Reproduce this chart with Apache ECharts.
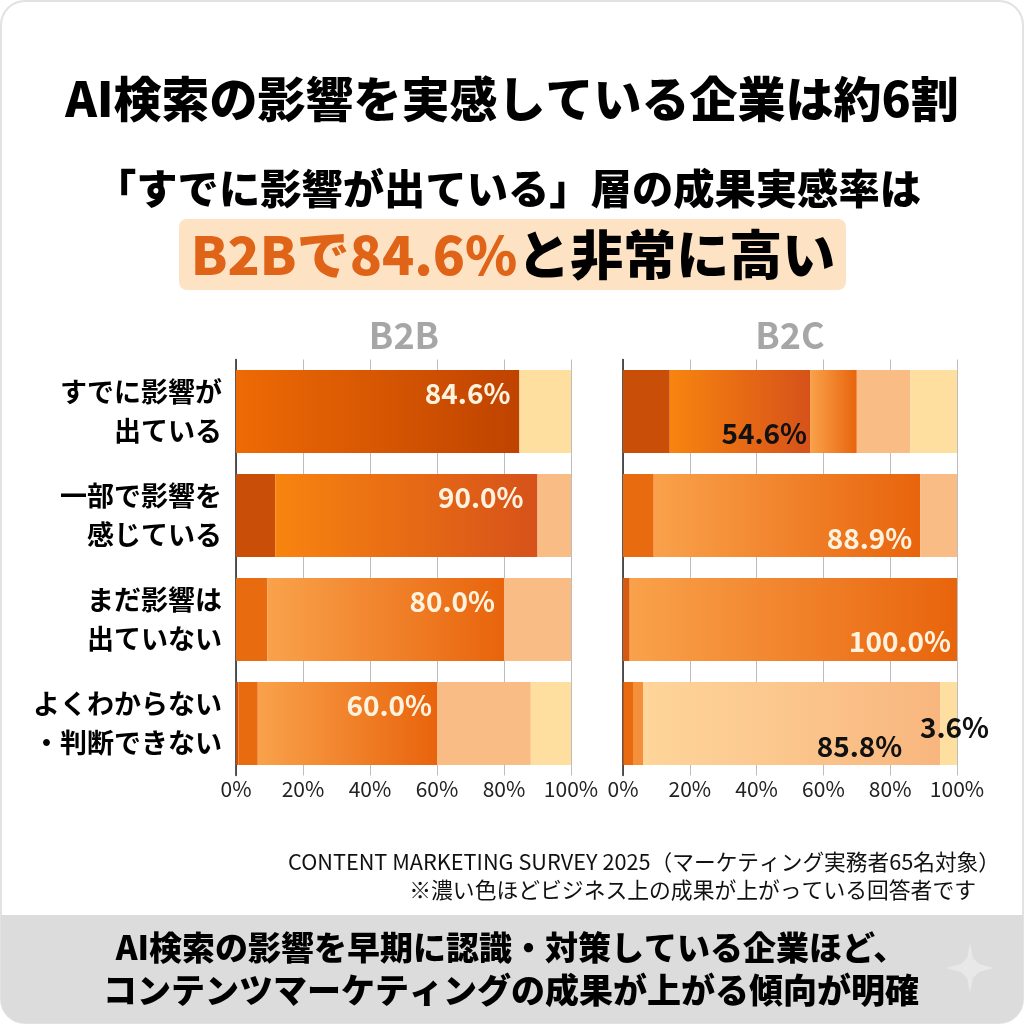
<!DOCTYPE html>
<html>
<head>
<meta charset="utf-8">
<style>html,body{margin:0;padding:0;background:#fff}#main{width:1024px;height:1024px}</style>
<script src="https://cdn.jsdelivr.net/npm/echarts@6/dist/echarts.min.js"></script>
</head>
<body>
<div id="main"></div>
<script>
const categories = ['すでに影響が\n出ている', '一部で影響を\n感じている', 'まだ影響は\n出ていない', 'よくわからない\n・判断できない'];
const ticks = [0, 20, 40, 60, 80, 100];

// share of respondents per result level, darkest first
const b2bTier1 = [84.6, 11.7, 0, 0.7];
const b2bTier2 = [0, 78.3, 9.4, 5.8];
const b2bTier3 = [0, 0, 70.6, 53.5];
const b2bTier4 = [0, 10, 20, 28];
const b2bTier5 = [15.4, 0, 0, 12];

const b2cTier1 = [14, 0, 0, 0.3];
const b2cTier2 = [42, 9.2, 2, 2.7];
const b2cTier3 = [14, 79.8, 98, 3];
const b2cTier4 = [16, 11, 0, 89];
const b2cTier5 = [14, 0, 0, 5];

const b2bLabels = ['84.6%', '90.0%', '80.0%', '60.0%'];
const b2cLabels = ['54.6%', '88.9%', '100.0%', '85.8%'];
const b2cExtraLabel = '3.6%';

const font = '"Noto Sans CJK JP", "Noto Sans", sans-serif';
const chart = echarts.init(document.getElementById('main'));

function grad(from, to) {
  return new echarts.graphic.LinearGradient(0, 0, 1, 0, [
    { offset: 0, color: from },
    { offset: 1, color: to }
  ]);
}

// short segments are flat in the picture, long ones fade
function tierColor(tier, v) {
  if (tier === 0) return v > 50 ? grad('#ee6a05', '#bf4300') : '#c94f08';
  if (tier === 1) {
    if (v > 20) return grad('#f8840f', '#d6521a');
    return v > 2 ? '#e86b10' : '#d65a10';
  }
  if (tier === 2) return v > 8 ? grad('#f9a24b', '#e8640c') : '#f5903a';
  if (tier === 3) return v > 50 ? grad('#fed59a', '#f8b67e') : '#f8bc84';
  return '#fedf9f';
}

// which tier carries the printed label in each row, and where it sits
const b2bLabelPlace = [
  { tier: 0, offset: [-9, -18], color: '#fff3e0' },
  { tier: 1, offset: [-14, -18], color: '#fff3e0' },
  { tier: 2, offset: [-9, -18], color: '#fff3e0' },
  { tier: 2, offset: [-5, -18], color: '#fff3e0' }
];
const b2cLabelPlace = [
  { tier: 1, offset: [-3, 22], color: '#111' },
  { tier: 2, offset: [-8, 23], color: '#fff3e0' },
  { tier: 2, offset: [-6, 22], color: '#fff3e0' },
  { tier: 3, offset: [-38, 23], color: '#111' }
];

function makeSeries(tiers, labels, place, axisIndex) {
  return tiers.map((values, tier) => ({
    name: 'tier' + (tier + 1),
    type: 'bar',
    stack: 'c' + axisIndex,
    xAxisIndex: axisIndex,
    yAxisIndex: axisIndex,
    barWidth: 83,
    data: values.map((v, row) => {
      const item = { value: v, itemStyle: { color: tierColor(tier, v) } };
      let text = null, p = null;
      if (place[row].tier === tier) { text = labels[row]; p = place[row]; }
      if (axisIndex === 1 && row === 3 && tier === 4) {
        text = b2cExtraLabel;
        p = { offset: [32, 4], color: '#111' };
      }
      if (text) {
        item.label = {
          show: true,
          formatter: text,
          position: 'insideRight',
          distance: 0,
          offset: p.offset,
          color: p.color,
          fontFamily: font,
          fontSize: 28,
          fontWeight: 'bold'
        };
      }
      return item;
    })
  }));
}

function xAxis(gridIndex) {
  return {
    type: 'value',
    gridIndex,
    min: ticks[0],
    max: ticks[ticks.length - 1],
    interval: ticks[1] - ticks[0],
    axisLine: { show: false },
    axisTick: { show: false },
    axisLabel: { formatter: '{value}%', color: '#222', fontFamily: font, fontSize: 21, margin: 3 },
    splitLine: { show: true, lineStyle: { color: '#bdbdbd', width: 1 } }
  };
}

function yAxis(gridIndex, showLabels) {
  return {
    type: 'category',
    gridIndex,
    inverse: true,
    data: categories,
    axisLine: { show: true, onZero: false, lineStyle: { color: '#222', width: 1.5 } },
    axisTick: { show: false },
    axisLabel: {
      show: showLabels,
      color: '#000',
      fontFamily: font,
      fontSize: 27,
      fontWeight: 'bold',
      lineHeight: 39,
      align: 'right',
      margin: 14
    }
  };
}

function text(str, x, y, size, color, weight, align) {
  return {
    type: 'text',
    x,
    y,
    style: {
      text: str,
      fontFamily: font,
      fontSize: size,
      fontWeight: weight || 'bold',
      fill: color || '#000',
      align: align || 'center',
      verticalAlign: 'middle'
    }
  };
}

const option = {
  backgroundColor: '#fff',
  animation: false,
  grid: [
    { left: 236, right: 1024 - 571, top: 359.5, height: 416 },
    { left: 623, right: 1024 - 957, top: 359.5, height: 416 }
  ],
  xAxis: [xAxis(0), xAxis(1)],
  yAxis: [yAxis(0, true), yAxis(1, false)],
  series: [
    ...makeSeries([b2bTier1, b2bTier2, b2bTier3, b2bTier4, b2bTier5], b2bLabels, b2bLabelPlace, 0),
    ...makeSeries([b2cTier1, b2cTier2, b2cTier3, b2cTier4, b2cTier5], b2cLabels, b2cLabelPlace, 1)
  ],
  graphic: [
    { type: 'rect', z: -10, shape: { x: 1, y: 1, width: 1022, height: 1022, r: 24 }, style: { fill: '#fff', stroke: '#e2e2e2', lineWidth: 2 } },
    { type: 'rect', z: -9, shape: { x: 1, y: 915, width: 1022, height: 108, r: [0, 0, 24, 24] }, style: { fill: '#dcdcdc' } },
    { type: 'rect', z: -9, shape: { x: 179, y: 219, width: 667, height: 71, r: 8 }, style: { fill: '#fde3c4' } },
    // corner sparkle on the footer band
    { type: 'polygon', z: -8, shape: { points: [[970, 943], [973, 958], [979, 964], [994, 968], [979, 972], [973, 978], [970, 993], [967, 978], [961, 972], [946, 968], [961, 964], [967, 958]] }, style: { fill: '#e8e8e8' } },
    text('AI検索の影響を実感している企業は約6割', 512, 99, 48, '#000', 900),
    text('「すでに影響が出ている」層の成果実感率は', 508, 188, 41.3, '#000', 900),
    {
      type: 'text',
      x: 513,
      y: 255,
      style: {
        text: '{a|B2Bで84.6%}{b|と非常に高い}',
        align: 'center',
        verticalAlign: 'middle',
        rich: {
          a: { fontFamily: font, fontSize: 53, fontWeight: 900, fill: '#df6418' },
          b: { fontFamily: font, fontSize: 53, fontWeight: 900, fill: '#000' }
        }
      }
    },
    text('B2B', 404, 335, 36, '#a6a6a6', 'bold'),
    text('B2C', 790, 335, 36, '#a6a6a6', 'bold'),
    text('CONTENT MARKETING SURVEY 2025（マーケティング実務者65名対象）', 1000, 862, 21.7, '#111', 'normal', 'right'),
    text('※濃い色ほどビジネス上の成果が上がっている回答者です', 976, 890, 21.8, '#111', 'normal', 'right'),
    text('AI検索の影響を早期に認識・対策している企業ほど、', 511, 947, 33, '#000', 900),
    text('コンテンツマーケティングの成果が上がる傾向が明確', 511, 990, 34, '#000', 900)
  ]
};

chart.setOption(option);
</script>
</body>
</html>
